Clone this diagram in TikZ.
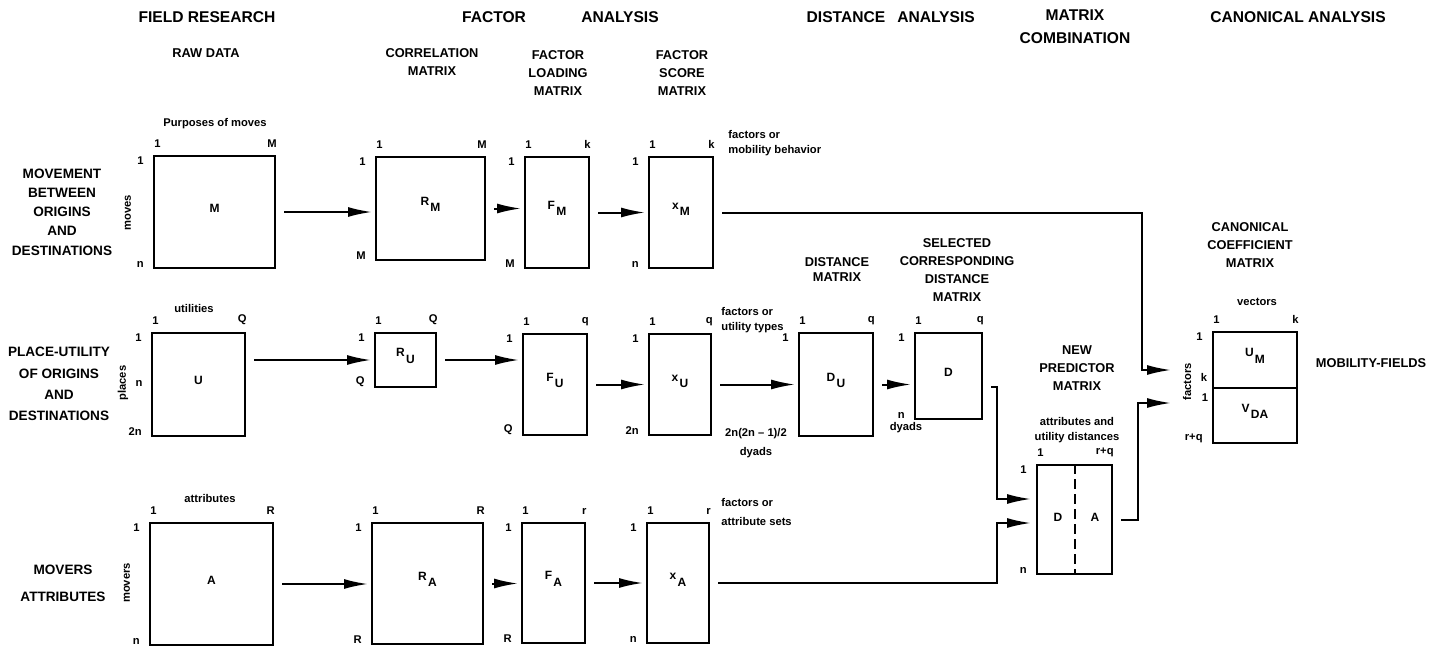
\documentclass[tikz,border=0pt]{standalone}
\usepackage{fontspec}
\setmainfont{Liberation Sans}
\usetikzlibrary{arrows.meta,positioning,calc,fit}
\newcommand{\hdfont}{\fontsize{7.8}{11.5}\selectfont\bfseries}
\newcommand{\subfont}{\fontsize{6.4}{9}\selectfont\bfseries}
\newcommand{\rowfont}{\fontsize{6.8}{9.6}\selectfont\bfseries}
\newcommand{\ntfont}{\fontsize{5.6}{7.5}\selectfont\bfseries}
\newcommand{\idxfont}{\fontsize{5.6}{6}\selectfont\bfseries}
\newcommand{\mxfont}{\fontsize{6}{7}\selectfont\bfseries}
\newcommand{\msub}[2]{#1\kern0.6pt\raisebox{-1ex}{#2}}
\newcommand{\mxlab}[5]{%
  \node[idx, anchor=south west, yshift=3pt] (#1-tl) at (#1.north west) {#2};
  \node[idx, anchor=south east, yshift=3pt, xshift=1pt] (#1-tr) at (#1.north east) {#3};
  \node[idx, anchor=north east, xshift=-4pt] (#1-lt) at (#1.north west) {#4};
  \node[idx, anchor=south east, xshift=-4pt] (#1-lb) at (#1.south west) {#5};}

\begin{document}
\begin{tikzpicture}[
  x=0.5pt, y=-0.5pt,
  mx/.style    ={draw, line width=1pt, inner sep=0pt, font=\mxfont},
  idx/.style   ={font=\idxfont, inner sep=0.5pt},
  hd/.style    ={font=\hdfont, align=center, inner sep=1pt},
  subhd/.style ={font=\subfont, align=center, inner sep=1pt},
  rowlab/.style={font=\rowfont, align=center, inner sep=1pt},
  nt/.style    ={font=\ntfont, align=center, inner sep=1pt},
  fl/.style    ={-{Latex[length=12pt,width=5pt]}, line width=1pt,
                 shorten <=4pt, shorten >=1.5pt}]

\useasboundingbox (0,0) rectangle (1440,648);

\node[hd] (hfield)  at (207,17)  {FIELD RESEARCH};
\node[hd] (hfac)    at (494,17)  {FACTOR};
\node[hd] (hfacan)  at (620,17)  {ANALYSIS};
\node[hd] (hdist)   at (846,17)  {DISTANCE};
\node[hd] (hdistan) at (936,17)  {ANALYSIS};
\node[hd] (hcomb)   at (1075,27) {MATRIX\\COMBINATION};
\node[hd] (hcanon)  at (1298,17) {CANONICAL ANALYSIS};

\node[subhd] (sraw)   at (206,53)  {RAW DATA};
\node[subhd] (scorr)  at (432,62)  {CORRELATION\\MATRIX};
\node[subhd] (sload)  at (558,73)  {FACTOR\\LOADING\\MATRIX};
\node[subhd] (sscore) at (682,73)  {FACTOR\\SCORE\\MATRIX};
\node[subhd, font=\fontsize{6.4}{7.5}\selectfont\bfseries] (sdist) at (837,270) {DISTANCE\\MATRIX};
\node[subhd] (ssel)   at (957,270) {SELECTED\\CORRESPONDING\\DISTANCE\\MATRIX};
\node[subhd] (snew)   at (1077,368) {NEW\\PREDICTOR\\MATRIX};
\node[subhd] (scan)   at (1250,245) {CANONICAL\\COEFFICIENT\\MATRIX};
\node[subhd] (smob)   at (1371,363) {MOBILITY-FIELDS};

\node[rowlab] (lmove)  at (62,212) {MOVEMENT\\BETWEEN\\ORIGINS\\AND\\DESTINATIONS};
\node[rowlab] (lplace) at (59,384) {PLACE-UTILITY\\[1pt]OF ORIGINS\\[1pt]AND\\[1pt]DESTINATIONS};
\node[rowlab] (lmover) at (63,583) {MOVERS\\[4pt]ATTRIBUTES};

\node[mx, fit={(154,156) (275,268)}] (mM) {M};
\node[mx, fit={(376,157) (485,260)}] (rM) {\msub{R}{M}};
\node[mx, fit={(525,157) (589,268)}] (fM) {\msub{F}{M}};
\node[mx, fit={(649,157) (713,268)}] (xM) {\msub{x}{M}};
\node[mx, fit={(152,333) (245,436)}] (mU) {U};
\node[mx, fit={(375,333) (436,387)}] (rU) {\msub{R}{U}};
\node[mx, fit={(523,334) (587,435)}] (fU) {\msub{F}{U}};
\node[mx, fit={(649,334) (711,435)}] (xU) {\msub{x}{U}};
\node[mx, fit={(799,333) (873,436)}] (dU) {\msub{D}{U}};
\node[mx, fit={(915,333) (982,419)}] (dD) {D};
\node[mx, fit={(150,523) (273,645)}] (mA) {A};
\node[mx, fit={(372,523) (483,644)}] (rA) {\msub{R}{A}};
\node[mx, fit={(522,523) (585,643)}] (fA) {\msub{F}{A}};
\node[mx, fit={(647,523) (709,643)}] (xA) {\msub{x}{A}};
\node[mx, fit={(1037,465) (1112,574)}] (np) {};
\node[mx, fit={(1213,332) (1297,388)}] (ccU) {\msub{U}{M}};
\node[mx, fit={(1213,388) (1297,443)}] (ccV) {\msub{V}{DA}};
\draw[line width=1pt, dash pattern=on 5pt off 2.5pt] (np.north) -- (np.south);
\node[font=\mxfont] (npD) at (1058,517) {D};
\node[font=\mxfont] (npA) at (1095,517) {A};

\mxlab{mM}{1}{M}{1}{n}
\mxlab{rM}{1}{M}{1}{M}
\mxlab{fM}{1}{k}{1}{M}
\mxlab{xM}{1}{k}{1}{n}
\mxlab{mU}{1}{Q}{1}{2n}
\mxlab{rU}{1}{Q}{1}{Q}
\mxlab{fU}{1}{q}{1}{Q}
\mxlab{xU}{1}{q}{1}{2n}
\mxlab{dU}{1}{q}{1}{}
\mxlab{dD}{1}{q}{1}{n}
\mxlab{mA}{1}{R}{1}{n}
\mxlab{rA}{1}{R}{1}{R}
\mxlab{fA}{1}{r}{1}{R}
\mxlab{xA}{1}{r}{1}{n}
\mxlab{np}{1}{r+q}{1}{n}
\mxlab{ccU}{1}{k}{1}{}
\mxlab{ccV}{}{}{}{r+q}
\node[idx] (mU-n) at (139,383) {n};
\node[idx] (ccU-k) at (1204,377) {k};
\node[idx] (ccV-1) at (1205,398) {1};

\node[nt] (npurp) at (215,124) {Purposes of moves};
\node[nt] (nutil) at (194,308) {utilities};
\node[nt] (nattr) at (210,498) {attributes};
\node[nt, align=left, anchor=west] (nmob)  at (726,143) {factors or\\mobility behavior};
\node[nt, align=left, anchor=west] (nutyp) at (719,320) {factors or\\utility types};
\node[nt, align=left, anchor=west, font=\fontsize{5.6}{9.5}\selectfont\bfseries] (nasets) at (719,512) {factors or\\attribute sets};
\node[nt, font=\fontsize{5.6}{9.5}\selectfont\bfseries] (ndyad) at (756,443) {2n(2n -- 1)/2\\dyads};
\node[nt, below=0pt of dD-lb.south east, anchor=north] (ndyD) {dyads};
\node[nt] (nvec) at (1257,302) {vectors};
\node[nt] (natt) at (1077,430) {attributes and\\utility distances};
\node[nt, rotate=90] (rmoves)  at (128,213)  {moves};
\node[nt, rotate=90] (rplaces) at (123,383)  {places};
\node[nt, rotate=90] (rmovers) at (127,583)  {movers};
\node[nt, rotate=90] (rfact)   at (1187,382) {factors};

\foreach \a/\b in {mM/rM,rM/fM,fM/xM,rU/fU,fU/xU,xU/dU,dU/dD,mA/rA,rA/fA,fA/xA}
  \draw[fl] (\a.east) -- (\b.west |- \a.east);
\draw[fl] (mU.east |- rU.west) -- (rU.west);

\coordinate (inU) at (1174,370);
\coordinate (inV) at (1174,403);
\coordinate (inD) at (1034,499);
\coordinate (inA) at (1034,523);
\coordinate (bM) at (1142,370);
\coordinate (bV) at (1138,403);
\coordinate (bD) at (997,499);
\coordinate (bA) at (997,523);
\draw[fl] (xM.east) -| (bM) -- (inU);
\draw[fl] (np.east) -| (bV) -- (inV);
\draw[fl] ($(dD.east)+(0,11)$) -| (bD) -- (inD);
\draw[fl] (xA.east) -| (bA) -- (inA);
\end{tikzpicture}
\end{document}
